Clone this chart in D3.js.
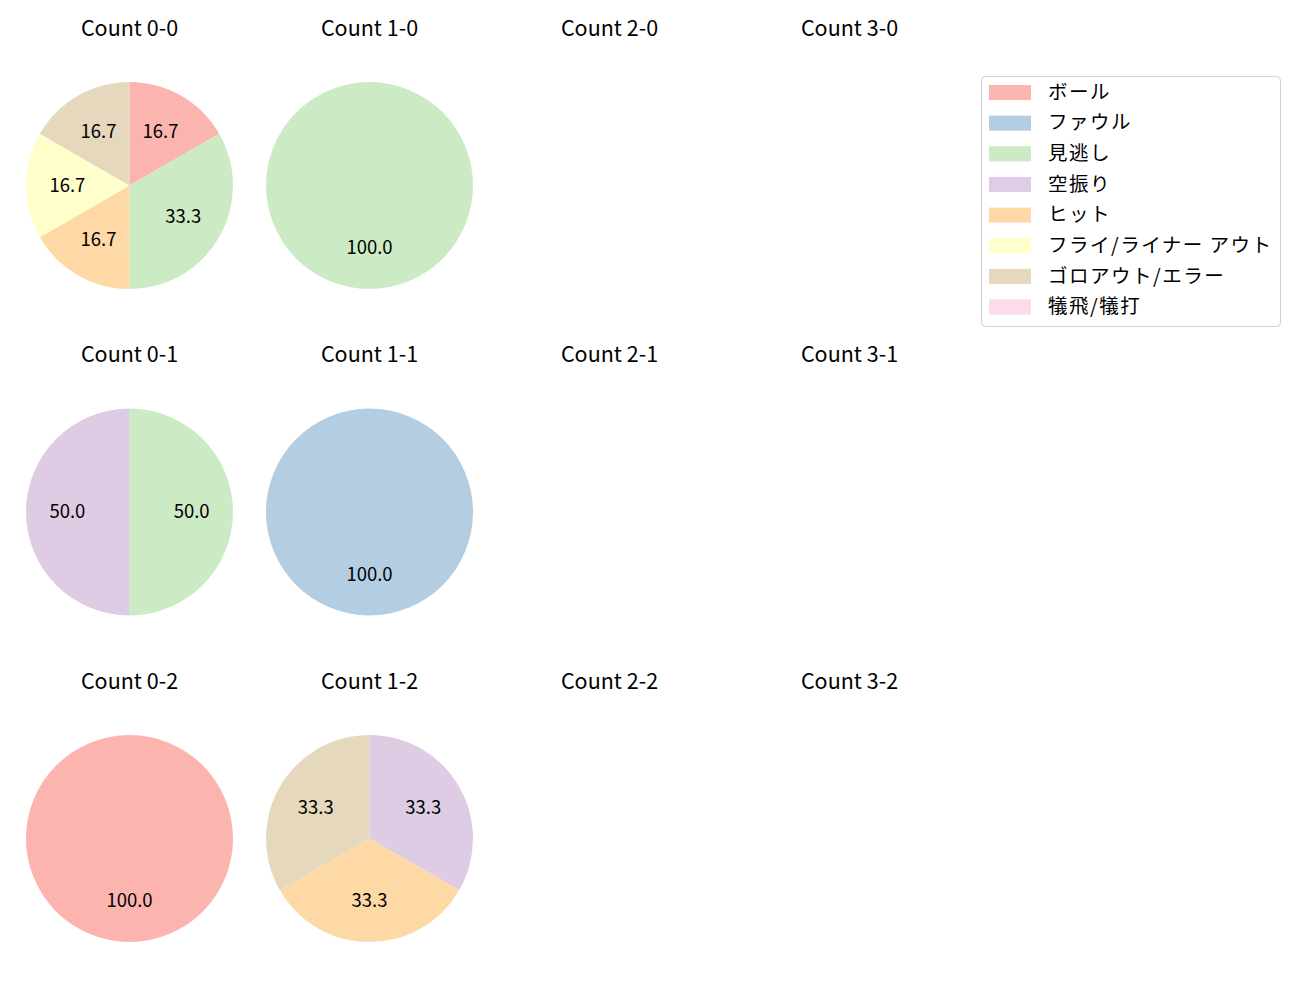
<!DOCTYPE html>
<html><head><meta charset="utf-8">
<script src="https://cdn.jsdelivr.net/npm/d3@7"></script>
<style>body{margin:0;background:#fff}</style>
</head><body><svg id="c" width="1300" height="1000"></svg>
<script>
const categories = ["ボール","ファウル","見逃し","空振り","ヒット","フライ/ライナー アウト","ゴロアウト/エラー","犠飛/犠打"];
const colors = ["#fbb4ae","#b3cde3","#ccebc5","#decbe4","#fed9a6","#ffffcc","#e5d8bd","#fddaec"];
const balls = [0,1,2,3];
const strikes = [0,1,2];
// values per count, in category order
const count00 = [1,0,2,0,1,1,1,0];
const count10 = [0,0,1,0,0,0,0,0];
const count01 = [0,0,1,1,0,0,0,0];
const count11 = [0,1,0,0,0,0,0,0];
const count02 = [1,0,0,0,0,0,0,0];
const count12 = [0,0,0,1,1,0,1,0];
const countData = {"0-0":count00,"1-0":count10,"0-1":count01,"1-1":count11,"0-2":count02,"1-2":count12};

const svg = d3.select("#c");
const font = "'Noto Sans CJK JP','Noto Sans',sans-serif";
const colX = d3.scalePoint().domain(balls).range([129.5,849.5]);
const rowY = d3.scalePoint().domain(strikes).range([185.5,838.5]);
const R = 103.5;
const color = d3.scaleOrdinal().domain(categories).range(colors);
const pie = d3.pie().sort(null).value(d=>d.v);
const arc = d3.arc().innerRadius(0).outerRadius(R);
const labelArc = d3.arc().innerRadius(R*0.6).outerRadius(R*0.6);

strikes.forEach(s=>{
  balls.forEach(b=>{
    const key = b+"-"+s;
    const cx = colX(b), cy = rowY(s);
    svg.append("text").attr("x",cx).attr("y",cy-150).attr("text-anchor","middle")
      .attr("font-family",font).attr("font-size",21.5).attr("fill","#000").text("Count "+key);
    const vals = countData[key];
    if(!vals) return;
    const total = d3.sum(vals);
    const data = categories.map((c,i)=>({c, v:vals[i]})).filter(d=>d.v>0);
    const g = svg.append("g").attr("transform",`translate(${cx},${cy})`);
    const arcs = pie(data);
    g.selectAll("path").data(arcs).join("path").attr("d",arc).attr("fill",d=>color(d.data.c));
    g.selectAll("text").data(arcs).join("text")
      .attr("transform",d=>`translate(${labelArc.centroid(d)})`)
      .attr("text-anchor","middle").attr("dy","0.35em")
      .attr("font-family",font).attr("font-size",18.5).attr("fill","#000")
      .text(d=>(d.data.v/total*100).toFixed(1));
  });
});

// legend
const lg = svg.append("g");
lg.append("rect").attr("x",981.5).attr("y",76.5).attr("width",299).attr("height",250).attr("rx",4)
  .attr("fill","#fff").attr("stroke","#d0d0d0");
const ly = d3.scalePoint().domain(categories).range([92,306.5]);
categories.forEach(c=>{
  lg.append("rect").attr("x",989).attr("y",ly(c)-7).attr("width",42).attr("height",15).attr("fill",color(c));
  lg.append("text").attr("x",1048).attr("y",ly(c)).attr("dy","0.35em").attr("font-family",font)
    .attr("font-size",19.5).attr("letter-spacing",1.5).attr("fill","#000").text(c);
});
</script></body></html>
